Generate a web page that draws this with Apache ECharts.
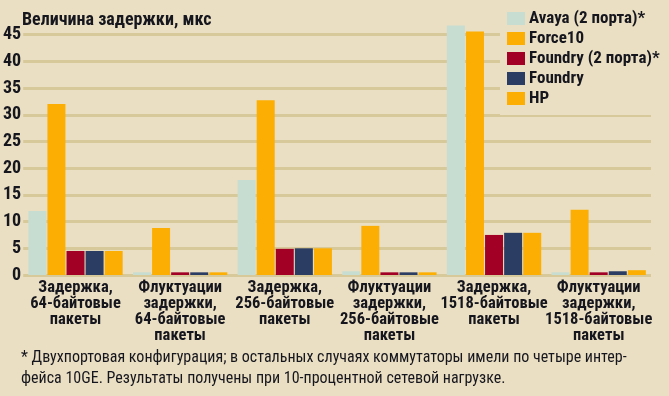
<!DOCTYPE html>
<html>
<head>
<meta charset="utf-8">
<script src="https://cdn.jsdelivr.net/npm/echarts@6/dist/echarts.min.js"></script>
<style>
  html, body { margin: 0; padding: 0; background: #eadfc2; }
  #chart { width: 669px; height: 396px; }
</style>
</head>
<body>
<div id="chart"></div>
<script>
const categories = [
    'Задержка,\n64-байтовые\nпакеты',
    'Флуктуации\nзадержки,\n64-байтовые\nпакеты',
    'Задержка,\n256-байтовые\nпакеты',
    'Флуктуации\nзадержки,\n256-байтовые\nпакеты',
    'Задержка,\n1518-байтовые\nпакеты',
    'Флуктуации\nзадержки,\n1518-байтовые\nпакеты',
];
const seriesNames = ['Avaya (2 порта)*', 'Force10', 'Foundry (2 порта)*', 'Foundry', 'HP'];
const avaya = [12.0, 0.5, 17.8, 0.7, 46.7, 0.5];
const force10 = [32.0, 8.8, 32.7, 9.2, 45.6, 12.2];
const foundry2 = [4.5, 0.5, 4.9, 0.5, 7.5, 0.5];
const foundry = [4.5, 0.5, 5.0, 0.5, 7.9, 0.7];
const hp = [4.5, 0.5, 5.0, 0.5, 7.9, 0.9];
const seriesColors = ['#c8ddd1', '#fcae03', '#a30026', '#2b3d63', '#fcae03'];
const yTicks = [0, 5, 10, 15, 20, 25, 30, 35, 40, 45];

const FONT = '"Roboto Condensed", "DejaVu Sans Condensed", sans-serif';
const INK = '#16161e';

const chart = echarts.init(document.getElementById('chart'));
const seriesData = [avaya, force10, foundry2, foundry, hp];

chart.setOption({
    backgroundColor: '#eadfc2',
    animation: false,
    title: {
        text: 'Величина задержки, мкс',
        left: 17,
        top: 6,
        textStyle: { fontFamily: FONT, fontWeight: 'bold', fontSize: 18, color: INK },
    },
    legend: {
        orient: 'vertical',
        left: 500,
        top: 4,
        padding: [6, 20, 8, 7],
        backgroundColor: '#eadfc2',
        itemWidth: 18,
        itemHeight: 13,
        itemGap: 3,
        itemStyle: { borderWidth: 0 },
        icon: 'rect',
        textStyle: { fontFamily: FONT, fontWeight: 'bold', fontSize: 17, color: INK, padding: [0, 0, 0, -1] },
        data: seriesNames,
        z: 10,
    },
    grid: { left: 22, right: 18, top: 24, bottom: 121 },
    xAxis: {
        type: 'category',
        data: categories,
        axisLine: { show: false },
        axisTick: { show: false },
        axisLabel: {
            interval: 0,
            margin: 5,
            fontFamily: FONT,
            fontWeight: 'bold',
            fontSize: 16.5,
            lineHeight: 16,
            color: INK,
            verticalAlign: 'top',
        },
    },
    yAxis: {
        type: 'value',
        min: 0,
        max: 47,
        interval: 5,
        axisLine: { show: false },
        axisTick: { show: false },
        axisLabel: {
            margin: 2,
            showMaxLabel: false,
            fontFamily: FONT,
            fontWeight: 'bold',
            fontSize: 18,
            color: INK,
            formatter: (v) => (yTicks.includes(v) ? String(v) : ''),
        },
        splitLine: { showMaxLine: false, lineStyle: { color: '#d8c99b', width: 3 } },
    },
    series: seriesNames.map((name, i) => ({
        name,
        type: 'bar',
        data: seriesData[i],
        barWidth: 18,
        barGap: '6%',
        itemStyle: { color: seriesColors[i] },
    })),
    graphic: [
        {
            type: 'text',
            left: 21,
            top: 347,
            style: {
                text: '* Двухпортовая конфигурация; в остальных случаях коммутаторы имели по четыре интер-\nфейса 10GE. Результаты получены при 10-процентной сетевой нагрузке.',
                fontFamily: FONT,
                fontSize: 16,
                lineHeight: 21,
                fill: INK,
            },
        },
    ],
});
</script>
</body>
</html>
